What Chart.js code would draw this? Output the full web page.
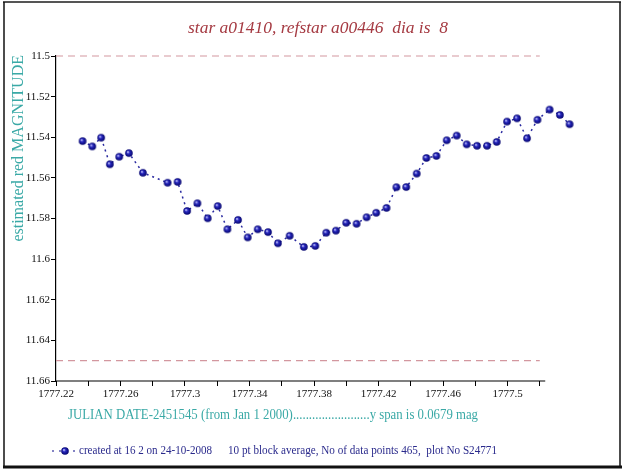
<!DOCTYPE html>
<html>
<head>
<meta charset="utf-8">
<script src="https://cdn.jsdelivr.net/npm/chart.js@4.4.0/dist/chart.umd.min.js"></script>
<style>
  html, body { margin: 0; padding: 0; background: #fff; }
  #wrap { width: 625px; height: 470px; }
</style>
</head>
<body>
<div id="wrap"><canvas id="c" width="625" height="470"></canvas></div>
<script>
// julian date - 2451545
const jd = [
  1777.2365, 1777.2425, 1777.2480, 1777.2534, 1777.2592, 1777.2652, 1777.2739, 1777.2892,
  1777.2954, 1777.3013, 1777.3077, 1777.3141, 1777.3203, 1777.3263, 1777.3329, 1777.3389,
  1777.3451, 1777.3515, 1777.3576, 1777.3649, 1777.3737, 1777.3808, 1777.3876, 1777.3936,
  1777.4000, 1777.4064, 1777.4126, 1777.4186, 1777.4250, 1777.4311, 1777.4372, 1777.4437,
  1777.4497, 1777.4559, 1777.4623, 1777.4685, 1777.4747, 1777.4811, 1777.4873, 1777.4933,
  1777.4997, 1777.5059, 1777.5121, 1777.5186, 1777.5261, 1777.5325, 1777.5385
]
// estimated red magnitude
const mag = [
  11.5419, 11.5445, 11.5402, 11.5533, 11.5496, 11.5478, 11.5575, 11.5624,
  11.5620, 11.5763, 11.5725, 11.5799, 11.5739, 11.5853, 11.5807, 11.5893,
  11.5853, 11.5867, 11.5922, 11.5885, 11.5940, 11.5935, 11.5870, 11.5860,
  11.5821, 11.5826, 11.5794, 11.5772, 11.5748, 11.5646, 11.5645, 11.5579,
  11.5502, 11.5492, 11.5415, 11.5392, 11.5435, 11.5442, 11.5442, 11.5423,
  11.5323, 11.5307, 11.5405, 11.5314, 11.5264, 11.5290, 11.5336
]
const refLevels = [11.5, 11.65]

const xRange = [1777.22, 1777.54]   // scale range (points run past the drawn axis)
const xAxisEnd = 1777.5234          // where the drawn x axis line stops
const xTickMarks = [1777.22, 1777.24, 1777.26, 1777.28, 1777.30, 1777.32, 1777.34, 1777.36,
  1777.38, 1777.40, 1777.42, 1777.44, 1777.46, 1777.48, 1777.50, 1777.52]
const xTickLabels = ['1777.22', '1777.26', '1777.3', '1777.34', '1777.38', '1777.42', '1777.46', '1777.5']
const yTicks = [11.5, 11.52, 11.54, 11.56, 11.58, 11.6, 11.62, 11.64, 11.66]
const yTickLabels = ['11.5', '11.52', '11.54', '11.56', '11.58', '11.6', '11.62', '11.64', '11.66']

const titleText = 'star a01410, refstar a00446  dia is  8'
const yTitle = 'estimated red MAGNITUDE'
const xTitle = 'JULIAN DATE-2451545 (from Jan 1 2000)........................y span is 0.0679 mag'
const footA = 'created at 16 2 on 24-10-2008'
const footB = '10 pt block average, No of data points 465,  plot No S24771'

const SERIF = '"Liberation Serif", "DejaVu Serif", serif'
const NAVY = '#0a0a8a'
const TEAL = '#3aa9a6'

// little shaded ball for the points
function ball(r) {
  const s = Math.ceil(r * 2 + 2)
  const cv = document.createElement('canvas')
  cv.width = s; cv.height = s
  const g = cv.getContext('2d')
  const grad = g.createRadialGradient(s / 2 - r * 0.3, s / 2 - r * 0.3, 0.3, s / 2, s / 2, r)
  grad.addColorStop(0, '#c8c8ff')
  grad.addColorStop(0.35, '#2a2ac0')
  grad.addColorStop(1, '#00006a')
  g.fillStyle = grad
  g.beginPath(); g.arc(s / 2, s / 2, r, 0, Math.PI * 2); g.fill()
  return cv
}
const dot = ball(3.8)

const refEnd = xTickMarks[xTickMarks.length - 1]
const refSets = refLevels.map(v => ({
  data: [{ x: xRange[0], y: v }, { x: refEnd, y: v }],
  borderColor: '#d3979f',
  borderWidth: 1.2,
  borderDash: [7, 5],
  pointRadius: 0,
  showLine: true,
  clip: false
}))

// draw text squeezed/stretched to span x0..x1
function fitText(ctx, text, x0, x1, y) {
  const w = ctx.measureText(text).width
  ctx.save()
  ctx.translate(x0, y)
  ctx.scale((x1 - x0) / w, 1)
  ctx.textAlign = 'left'
  ctx.fillText(text, 0, 0)
  ctx.restore()
}

const decor = {
  id: 'decor',
  beforeDraw(chart) {
    const ctx = chart.ctx
    ctx.save()
    ctx.fillStyle = '#fff'
    ctx.fillRect(0, 0, chart.width, chart.height)
    ctx.restore()
  },
  beforeDatasetsDraw(chart) {
    // x axis line, only up to xAxisEnd
    const ctx = chart.ctx
    const xs = chart.scales.x
    const b = chart.chartArea.bottom
    ctx.save()
    ctx.strokeStyle = '#000'
    ctx.lineWidth = 1.2
    ctx.beginPath()
    ctx.moveTo(chart.chartArea.left, b)
    ctx.lineTo(xs.getPixelForValue(xAxisEnd), b)
    ctx.stroke()
    ctx.restore()
  },
  afterDraw(chart) {
    const ctx = chart.ctx
    ctx.save()
    // frame
    ctx.strokeStyle = '#555'
    ctx.lineWidth = 2
    ctx.beginPath(); ctx.moveTo(3, 2); ctx.lineTo(621, 2); ctx.stroke()
    ctx.strokeStyle = '#111'
    ctx.lineWidth = 1.5
    ctx.beginPath(); ctx.moveTo(4, 2); ctx.lineTo(4, 466); ctx.stroke()
    ctx.beginPath(); ctx.moveTo(620, 2); ctx.lineTo(620, 466); ctx.stroke()
    ctx.lineWidth = 3
    ctx.beginPath(); ctx.moveTo(3, 467); ctx.lineTo(622, 467); ctx.stroke()

    ctx.textBaseline = 'middle'
    // title
    ctx.fillStyle = '#a53a42'
    ctx.font = 'italic 17px ' + SERIF
    fitText(ctx, titleText, 188, 448, 29)

    // y title
    ctx.fillStyle = TEAL
    ctx.font = '16px ' + SERIF
    ctx.save()
    ctx.translate(19, 55)
    ctx.rotate(-Math.PI / 2)
    ctx.textAlign = 'right'
    ctx.fillText(yTitle, 0, 0)
    ctx.restore()

    // x title
    ctx.font = '15px ' + SERIF
    fitText(ctx, xTitle, 68, 478, 415)

    // footer with legend marker
    ctx.strokeStyle = NAVY
    ctx.lineWidth = 1.2
    ctx.setLineDash([2, 5])
    ctx.beginPath(); ctx.moveTo(52, 451); ctx.lineTo(77, 451); ctx.stroke()
    ctx.setLineDash([])
    ctx.drawImage(dot, 65 - dot.width / 2, 451 - dot.height / 2)
    ctx.fillStyle = '#2a2a8c'
    ctx.font = '13px ' + SERIF
    fitText(ctx, footA, 79, 212, 451)
    fitText(ctx, footB, 228, 497, 451)
    ctx.restore()
  }
}

new Chart(document.getElementById('c').getContext('2d'), {
  type: 'scatter',
  data: {
    datasets: [{
      data: jd.map((x, i) => ({ x, y: mag[i] })),
      showLine: true,
      borderColor: '#2a2aa0',
      borderWidth: 1.5,
      borderDash: [2, 4],
      pointStyle: dot,
      pointRadius: 4,
      clip: false
    }, ...refSets]
  },
  options: {
    responsive: false,
    animation: false,
    devicePixelRatio: 1,
    layout: { padding: { left: 0, top: 56, right: 53, bottom: 0 } },
    plugins: {
      legend: { display: false },
      tooltip: { enabled: false },
      title: { display: false }
    },
    scales: {
      x: {
        type: 'linear',
        min: xRange[0],
        max: xRange[1],
        afterBuildTicks: s => { s.ticks = xTickMarks.map(v => ({ value: v })) },
        afterFit: s => { s.height = 89 },
        border: { display: false },
        grid: { drawOnChartArea: false, drawTicks: true, tickLength: 5, color: '#000', lineWidth: 1 },
        ticks: {
          autoSkip: false,
          maxRotation: 0,
          padding: 2,
          color: '#111',
          font: { family: SERIF, size: 11 },
          callback: v => {
            const t = String(Number(v.toFixed(2)))
            return xTickLabels.includes(t) ? t : ''
          }
        }
      },
      y: {
        type: 'linear',
        min: yTicks[0],
        max: yTicks[yTicks.length - 1],
        reverse: true,
        afterBuildTicks: s => { s.ticks = yTicks.map(v => ({ value: v })) },
        afterFit: s => { s.width = 56 },
        border: { color: '#000', width: 1.2 },
        grid: { drawOnChartArea: false, drawTicks: true, tickLength: 5, color: '#000', lineWidth: 1 },
        ticks: {
          padding: 1,
          color: '#111',
          font: { family: SERIF, size: 11 },
          callback: (v, i) => yTickLabels[i]
        }
      }
    }
  },
  plugins: [decor]
})
</script>
</body>
</html>
